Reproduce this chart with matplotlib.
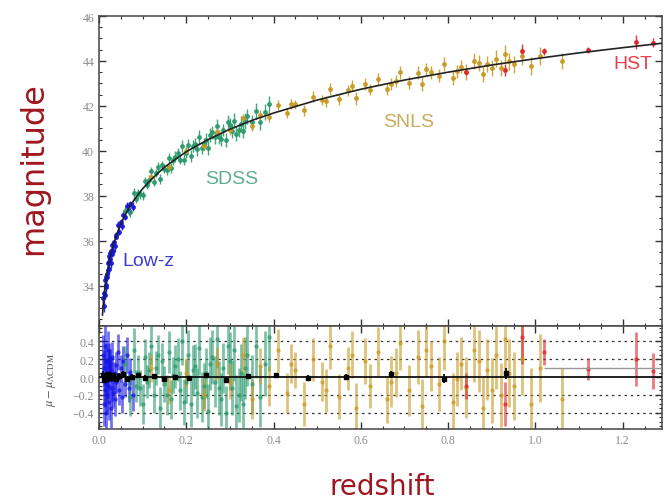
import numpy as np
import matplotlib
matplotlib.use("Agg")
import matplotlib.pyplot as plt
from matplotlib.ticker import MultipleLocator, FixedLocator

# Curva del modelo
curve_z = [0.008, 0.010, 0.012, 0.015, 0.020, 0.025, 0.030, 0.040, 0.050, 0.060,
           0.070, 0.080, 0.100, 0.120, 0.150, 0.200, 0.250, 0.300, 0.350, 0.400,
           0.500, 0.600, 0.700, 0.800, 0.900, 1.000, 1.100, 1.200, 1.300]
curve_mu = [32.69, 33.18, 33.58, 34.06, 34.70, 35.19, 35.59, 36.24, 36.73, 37.15,
            37.50, 37.80, 38.31, 38.73, 39.27, 39.96, 40.50, 40.96, 41.35, 41.68,
            42.26, 42.74, 43.15, 43.50, 43.82, 44.10, 44.36, 44.59, 44.81]

# Low-z
lowz_z = [0.010, 0.011, 0.012, 0.013, 0.014, 0.015, 0.016, 0.017, 0.018, 0.019,
          0.020, 0.021, 0.022, 0.023, 0.024, 0.025, 0.026, 0.027, 0.028, 0.029,
          0.030, 0.032, 0.034, 0.036, 0.038, 0.040, 0.043, 0.046, 0.050, 0.053,
          0.056, 0.060, 0.064, 0.068, 0.072, 0.077]
lowz_mu = [33.43, 33.09, 33.68, 33.60, 34.26, 34.01, 34.38, 33.93, 34.51, 34.38,
           35.00, 34.71, 35.03, 34.73, 35.30, 35.17, 35.43, 35.01, 35.52, 35.40,
           35.81, 35.55, 35.92, 35.74, 36.26, 36.18, 36.68, 36.40, 36.83, 36.64,
           37.16, 37.06, 37.54, 37.31, 37.63, 37.52]
lowz_res = [0.25, -0.30, 0.10, -0.15, 0.35, -0.05, 0.18, -0.40, 0.05, -0.20,
            0.30, -0.10, 0.12, -0.28, 0.20, -0.02, 0.15, -0.35, 0.08, -0.12,
            0.22, -0.18, 0.05, -0.25, 0.14, -0.06, 0.28, -0.15, 0.10, -0.22,
            0.18, -0.08, 0.25, -0.12, 0.06, -0.20]
lowz_err = [0.22, 0.25, 0.20, 0.18, 0.24, 0.16, 0.20, 0.22, 0.15, 0.19,
            0.21, 0.14, 0.17, 0.20, 0.18, 0.13, 0.16, 0.22, 0.14, 0.15,
            0.17, 0.15, 0.12, 0.18, 0.14, 0.12, 0.20, 0.16, 0.15, 0.18,
            0.17, 0.14, 0.20, 0.16, 0.15, 0.18]

# SDSS
sdss_z = [0.060, 0.070, 0.080, 0.085, 0.090, 0.095, 0.100, 0.105, 0.110, 0.115,
          0.120, 0.125, 0.130, 0.135, 0.140, 0.145, 0.150, 0.155, 0.160, 0.165,
          0.170, 0.175, 0.180, 0.185, 0.190, 0.195, 0.200, 0.205, 0.210, 0.215,
          0.220, 0.225, 0.230, 0.235, 0.240, 0.245, 0.250, 0.255, 0.260, 0.265,
          0.270, 0.275, 0.280, 0.285, 0.290, 0.295, 0.300, 0.305, 0.310, 0.315,
          0.320, 0.325, 0.330, 0.335, 0.340, 0.350, 0.360, 0.370, 0.380, 0.390]
sdss_mu = [37.30, 37.28, 38.10, 37.84, 38.12, 38.07, 38.01, 38.64, 38.48, 38.71,
           39.08, 38.63, 39.02, 39.26, 38.74, 39.36, 39.19, 39.14, 39.69, 39.23,
           39.57, 39.74, 39.89, 39.61, 40.22, 39.61, 39.91, 40.26, 39.77, 40.21,
           40.30, 40.06, 40.61, 40.13, 40.30, 40.50, 40.12, 40.70, 40.82, 40.60,
           41.11, 40.62, 40.53, 40.93, 40.47, 41.27, 41.14, 40.88, 41.34, 40.76,
           40.92, 41.21, 40.90, 41.34, 41.53, 41.27, 41.77, 41.27, 41.71, 42.07]
sdss_res = [0.15, -0.22, 0.30, -0.10, 0.05, -0.12, -0.30, 0.22, -0.05, 0.08,
            0.35, -0.20, 0.10, 0.25, -0.35, 0.18, -0.08, -0.20, 0.28, -0.25,
            0.02, 0.12, 0.20, -0.15, 0.40, -0.28, -0.05, 0.25, -0.30, 0.08,
            0.12, -0.18, 0.32, -0.22, -0.10, 0.05, -0.38, 0.15, 0.22, -0.05,
            0.42, -0.12, -0.25, 0.10, -0.40, 0.35, 0.18, -0.12, 0.30, -0.32,
            -0.20, 0.05, -0.30, 0.10, 0.25, -0.08, 0.35, -0.22, 0.15, 0.45]
sdss_err = [0.20, 0.22, 0.25, 0.18, 0.20, 0.20, 0.22, 0.20, 0.18, 0.20,
            0.22, 0.20, 0.19, 0.22, 0.24, 0.20, 0.20, 0.22, 0.23, 0.22,
            0.20, 0.24, 0.24, 0.22, 0.26, 0.26, 0.24, 0.28, 0.26, 0.28,
            0.25, 0.28, 0.30, 0.28, 0.26, 0.28, 0.30, 0.30, 0.30, 0.28,
            0.32, 0.30, 0.30, 0.28, 0.30, 0.32, 0.32, 0.30, 0.34, 0.34,
            0.30, 0.32, 0.34, 0.35, 0.35, 0.33, 0.36, 0.34, 0.36, 0.38]

# SNLS
snls_z = [0.12, 0.16, 0.20, 0.24, 0.27, 0.30, 0.33, 0.35, 0.37, 0.39,
          0.41, 0.43, 0.44, 0.45, 0.47, 0.49, 0.51, 0.52, 0.53, 0.55,
          0.57, 0.58, 0.59, 0.61, 0.62, 0.64, 0.66, 0.67, 0.68, 0.69,
          0.71, 0.73, 0.74, 0.75, 0.76, 0.78, 0.79, 0.81, 0.82, 0.83,
          0.84, 0.86, 0.87, 0.88, 0.89, 0.90, 0.91, 0.92, 0.93, 0.94,
          0.95, 0.97, 0.99, 1.01, 1.06]
snls_mu = [38.83, 39.26, 40.01, 40.20, 40.84, 40.91, 41.45, 41.10, 41.61, 41.52,
           42.04, 41.68, 42.08, 42.07, 41.80, 42.41, 42.26, 42.21, 42.76, 42.29,
           42.70, 42.90, 42.34, 42.96, 42.72, 43.19, 42.74, 42.98, 43.12, 43.49,
           43.04, 43.48, 42.98, 43.63, 43.49, 43.35, 43.87, 43.25, 43.54, 43.75,
           43.51, 43.99, 43.90, 43.41, 43.87, 43.67, 44.10, 43.67, 44.32, 43.98,
           43.86, 44.21, 43.77, 44.22, 44.00]
snls_res = [0.10, -0.15, 0.05, -0.20, 0.15, -0.05, 0.25, -0.25, 0.12, -0.10,
            0.30, -0.18, 0.15, 0.08, -0.30, 0.20, -0.05, -0.15, 0.35, -0.22,
            0.10, 0.25, -0.35, 0.18, -0.10, 0.28, -0.25, -0.05, 0.05, 0.38,
            -0.15, 0.22, -0.32, 0.30, 0.12, -0.08, 0.40, -0.28, -0.02, 0.15,
            -0.12, 0.30, 0.18, -0.35, 0.08, -0.15, 0.25, -0.20, 0.42, 0.05,
            -0.10, 0.20, -0.30, 0.10, -0.25]
snls_err = [0.15, 0.15, 0.16, 0.18, 0.18, 0.20, 0.20, 0.22, 0.20, 0.22,
            0.24, 0.22, 0.22, 0.20, 0.25, 0.24, 0.22, 0.24, 0.26, 0.25,
            0.24, 0.26, 0.28, 0.26, 0.25, 0.28, 0.26, 0.28, 0.27, 0.30,
            0.28, 0.30, 0.30, 0.30, 0.28, 0.30, 0.32, 0.32, 0.30, 0.30,
            0.34, 0.35, 0.35, 0.36, 0.34, 0.36, 0.38, 0.36, 0.40, 0.38,
            0.38, 0.40, 0.40, 0.38, 0.35]

# HST
hst_z = [0.84, 0.93, 0.97, 1.02, 1.12, 1.23, 1.27]
hst_mu = [43.53, 43.60, 44.46, 44.43, 44.49, 44.85, 44.82]
hst_res = [-0.10, -0.30, 0.45, 0.28, 0.09, 0.20, 0.07]
hst_err = [0.15, 0.25, 0.30, 0.15, 0.12, 0.30, 0.20]

# Puntos agrupados (negro)
bin_z = [0.010, 0.012, 0.014, 0.017, 0.020, 0.023, 0.028, 0.033, 0.039, 0.046,
         0.054, 0.064, 0.076, 0.090, 0.106, 0.125, 0.148, 0.175, 0.207, 0.245,
         0.290, 0.342, 0.405, 0.478, 0.565, 0.668, 0.790, 0.933]
bin_res = [0.02, -0.03, 0.01, -0.02, 0.03, 0.00, -0.01, 0.02, -0.02, 0.01,
           0.03, -0.02, 0.00, 0.02, -0.01, 0.01, -0.02, 0.00, -0.01, 0.02,
           -0.03, 0.01, 0.02, -0.01, 0.00, 0.03, -0.02, 0.04]
bin_err = [0.05, 0.04, 0.04, 0.03, 0.03, 0.03, 0.03, 0.03, 0.03, 0.04,
           0.04, 0.03, 0.03, 0.03, 0.03, 0.02, 0.02, 0.02, 0.02, 0.02,
           0.02, 0.02, 0.03, 0.03, 0.03, 0.04, 0.05, 0.06]
last_bin_z = [1.16]
last_bin_res = [0.10]
last_bin_xerr = [0.14]

surveys = [
    (lowz_z, lowz_mu, lowz_res, lowz_err, "#1414e6"),
    (sdss_z, sdss_mu, sdss_res, sdss_err, "#2b9a6c"),
    (snls_z, snls_mu, snls_res, snls_err, "#c99a22"),
    (hst_z, hst_mu, hst_res, hst_err, "#e2202a"),
]

plt.rcParams["mathtext.fontset"] = "stix"
serif = "Liberation Serif"
gris = "#8a8a8a"

fig = plt.figure(figsize=(6.66, 5.02), dpi=100)
ax1 = fig.add_axes([0.1486, 0.3486, 0.8454, 0.6175])
ax2 = fig.add_axes([0.1486, 0.1434, 0.8454, 0.2052], sharex=ax1)

for z, mu, res, err, col in surveys:
    ax1.errorbar(z, mu, yerr=err, fmt="o", ms=2.5, color=col, ecolor=col,
                 elinewidth=1.0, capsize=0, alpha=0.9, zorder=2)
    ax2.errorbar(z, res, yerr=err, fmt="o", ms=2.2, color=col, ecolor=col,
                 elinewidth=2.0, capsize=0, alpha=0.6, zorder=2)

ax1.plot(curve_z, curve_mu, color="#222222", lw=1.2, zorder=3)

# panel de residuos
for yv in [-0.4, -0.2, 0.2, 0.4]:
    ax2.axhline(yv, color="#333333", ls=(0, (2, 3)), lw=0.9, zorder=1)
ax2.axhline(0.0, color="#111111", lw=1.3, zorder=3)
ax2.errorbar(bin_z, bin_res, yerr=bin_err, fmt="s", ms=3, color="black",
             ecolor="black", elinewidth=1.2, capsize=0, zorder=4)
ax2.errorbar(last_bin_z, last_bin_res, xerr=last_bin_xerr, fmt="none",
             ecolor="#999999", elinewidth=1.0, capsize=0, zorder=4)

ax1.set_xlim(0, 1.29)
ax1.set_ylim(32.2, 46)
ax2.set_ylim(-0.58, 0.57)

ax1.yaxis.set_major_locator(MultipleLocator(2))
ax1.yaxis.set_minor_locator(MultipleLocator(0.5))
ax1.xaxis.set_major_locator(MultipleLocator(0.2))
ax1.xaxis.set_minor_locator(MultipleLocator(0.05))
ax2.yaxis.set_major_locator(FixedLocator([-0.4, -0.2, 0.0, 0.2, 0.4]))
ax2.yaxis.set_minor_locator(MultipleLocator(0.05))
ax2.set_yticklabels(["\u22120.4", "\u22120.2", "0.0", "0.2", "0.4"])

for ax in (ax1, ax2):
    ax.tick_params(which="both", direction="in", top=True, right=True,
                   colors="#333333", labelcolor=gris, labelsize=8.5)
    ax.tick_params(which="major", length=5, width=1)
    ax.tick_params(which="minor", length=2.5, width=0.8)
    for s in ax.spines.values():
        s.set_color("#444444")
        s.set_linewidth(1.1)
    for lab in ax.get_xticklabels() + ax.get_yticklabels():
        lab.set_family(serif)
plt.setp(ax1.get_xticklabels(), visible=False)
ax2.xaxis.set_major_formatter(matplotlib.ticker.FormatStrFormatter("%.1f"))
for lab in ax2.get_xticklabels():
    lab.set_family(serif)

# etiquetas de los surveys
ax1.text(0.053, 35.1, "Low-z", color="#3b3bd6", fontsize=14,
         family="Liberation Sans", ha="left", va="center")
ax1.text(0.243, 38.76, "SDSS", color="#5fae8f", fontsize=14,
         family="Liberation Sans", ha="left", va="center")
ax1.text(0.651, 41.29, "SNLS", color="#c9ab5c", fontsize=14,
         family="Liberation Sans", ha="left", va="center")
ax1.text(1.179, 43.87, "HST", color="#e6414c", fontsize=14,
         family="Liberation Sans", ha="left", va="center")

fig.text(34 / 666, 1 - 169 / 502, "magnitude", rotation=90, color="#9e1620",
         fontsize=23, ha="center", va="center")
fig.text(382 / 666, 1 - 495 / 502, "redshift", color="#9e1620",
         fontsize=20, ha="center", va="baseline")
fig.text(52 / 666, 1 - 380 / 502, r"$\mu - \mu_{\Lambda\mathrm{CDM}}$",
         rotation=90, color="#555555", fontsize=9, ha="center", va="center")

plt.savefig("out.png", dpi=100)
plt.close()
